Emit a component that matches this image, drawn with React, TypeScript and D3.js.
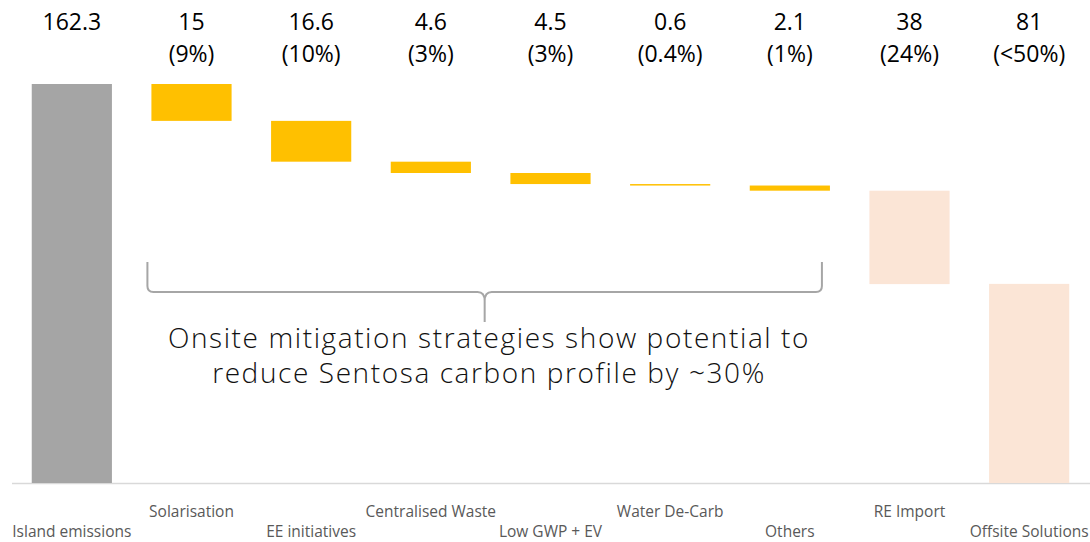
import { useRef, useEffect } from 'react';
import * as d3 from 'd3';

const categories = [
  'Island emissions', 'Solarisation', 'EE initiatives', 'Centralised Waste',
  'Low GWP + EV', 'Water De-Carb', 'Others', 'RE Import', 'Offsite Solutions',
];
const values = [162.3, 15, 16.6, 4.6, 4.5, 0.6, 2.1, 38, 81];
const valueLabels = ['162.3', '15', '16.6', '4.6', '4.5', '0.6', '2.1', '38', '81'];
const shareLabels = ['', '(9%)', '(10%)', '(3%)', '(3%)', '(0.4%)', '(1%)', '(24%)', '(<50%)'];
const kinds = ['total', 'onsite', 'onsite', 'onsite', 'onsite', 'onsite', 'onsite', 'offsite', 'final'];
const noteLines = [
  'Onsite mitigation strategies show potential to',
  'reduce Sentosa carbon profile by ~30%',
];

const colors: Record<string, string> = {
  total: '#A5A5A5',
  onsite: '#FFC000',
  offsite: '#FBE5D6',
  final: '#FBE5D6',
};

const W = 1090;
const H = 542;

function drawChart(el: SVGSVGElement) {
  const svg = d3.select(el);
  svg.selectAll('*').remove();

  const x = d3.scaleBand<string>()
    .domain(categories)
    .range([12, 1089])
    .paddingInner(0.33)
    .paddingOuter(0.165);

  const y = d3.scaleLinear().domain([0, 162.3]).range([483, 84]);

  // waterfall spans
  let running = 0;
  const bars = values.map((v, i) => {
    let lo: number, hi: number;
    if (kinds[i] === 'total') { lo = 0; hi = v; running = v; }
    else if (kinds[i] === 'final') { lo = 0; hi = v; }
    else { hi = running; lo = running - v; running = lo; }
    return { cat: categories[i], lo, hi, kind: kinds[i] };
  });

  svg.append('line')
    .attr('x1', 12).attr('x2', W)
    .attr('y1', 483.5).attr('y2', 483.5)
    .attr('stroke', '#D9D9D9')
    .attr('stroke-width', 1.5);

  svg.selectAll('.bar')
    .data(bars)
    .enter()
    .append('rect')
    .attr('class', 'bar')
    .attr('x', (d) => x(d.cat)!)
    .attr('y', (d) => y(d.hi))
    .attr('width', x.bandwidth())
    .attr('height', (d) => Math.max(1.5, y(d.lo) - y(d.hi)))
    .attr('fill', (d) => colors[d.kind]);

  const labelFont = '"Open Sans", sans-serif';

  svg.selectAll('.val')
    .data(categories)
    .enter()
    .append('text')
    .attr('x', (d) => x(d)! + x.bandwidth() / 2)
    .attr('y', 30)
    .attr('text-anchor', 'middle')
    .style('font-family', labelFont)
    .style('font-size', '23px')
    .style('fill', '#000')
    .text((_, i) => valueLabels[i]);

  svg.selectAll('.share')
    .data(categories)
    .enter()
    .append('text')
    .attr('x', (d) => x(d)! + x.bandwidth() / 2)
    .attr('y', 62)
    .attr('text-anchor', 'middle')
    .style('font-family', labelFont)
    .style('font-size', '23px')
    .style('fill', '#000')
    .text((_, i) => shareLabels[i]);

  svg.selectAll('.cat')
    .data(categories)
    .enter()
    .append('text')
    .attr('x', (d) => x(d)! + x.bandwidth() / 2)
    .attr('y', (_, i) => (i % 2 === 1 ? 517 : 537))
    .attr('text-anchor', 'middle')
    .style('font-family', labelFont)
    .style('font-size', '15.5px')
    .style('fill', '#595959')
    .text((d) => d);

  // brace under onsite bars
  const bl = x('Solarisation')! - 4;
  const br = x('Others')! + x.bandwidth() - 8;
  const bm = (bl + br) / 2;
  const top = 262, mid = 292, tip = 322, r = 6;
  const path = [
    `M${bl},${top}`, `L${bl},${mid - r}`, `Q${bl},${mid} ${bl + r},${mid}`,
    `L${bm - r - 1},${mid}`, `Q${bm},${mid} ${bm},${mid + 9}`, `L${bm},${tip}`,
    `M${bm},${mid + 9}`, `Q${bm},${mid} ${bm + r + 1},${mid}`,
    `L${br - r},${mid}`, `Q${br},${mid} ${br},${mid - r}`, `L${br},${top}`,
  ].join(' ');
  svg.append('path')
    .attr('d', path)
    .attr('fill', 'none')
    .attr('stroke', '#A6A6A6')
    .attr('stroke-width', 2);

  svg.selectAll('.note')
    .data(noteLines)
    .enter()
    .append('text')
    .attr('x', 489)
    .attr('y', (_, i) => 348 + i * 35)
    .attr('text-anchor', 'middle')
    .style('font-family', '"Open Sans", sans-serif')
    .style('font-weight', 300)
    .style('font-size', '28px')
    .style('letter-spacing', '1.6px')
    .style('fill', '#111')
    .text((d) => d);
}

export default function App() {
  const ref = useRef<SVGSVGElement>(null);

  useEffect(() => {
    if (!ref.current) return;
    drawChart(ref.current);
  }, []);

  return (
    <svg
      ref={ref}
      width={W}
      height={H}
      style={{ position: 'absolute', left: 0, top: 0, background: '#fff' }}
    />
  );
}
